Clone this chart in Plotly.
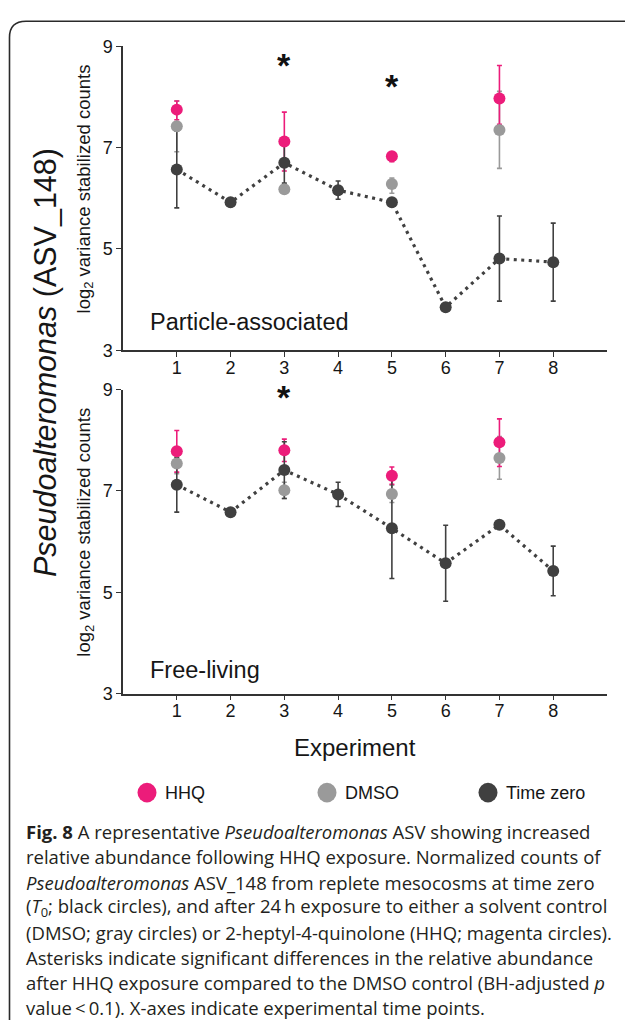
import plotly.graph_objects as go

W, H = 625, 1035

# ---------------- data ----------------
experiments = [1, 2, 3, 4, 5, 6, 7, 8]
treated_experiments = [1, 3, 5, 7]
x_tick_labels = ["1", "2", "3", "4", "5", "6", "7", "8"]
y_tick_values = [3, 5, 7, 9]
series_names = ["HHQ", "DMSO", "Time zero"]
panel_names = ["Particle-associated", "Free-living"]

# Particle-associated
hhq_pa = [7.75, 7.12, 6.83, 7.97]
hhq_pa_plus = [0.17, 0.58, 0.06, 0.65]
hhq_pa_minus = [0.20, 0.58, 0.11, 0.51]
dmso_pa = [7.42, 6.18, 6.28, 7.35]
dmso_pa_plus = [0.50, 0.08, 0.12, 0.76]
dmso_pa_minus = [0.50, 0.08, 0.18, 0.76]
t0_pa = [6.57, 5.92, 6.70, 6.16, 5.92, 3.85, 4.81, 4.74]
t0_pa_plus = [0.76, 0.08, 0.40, 0.18, 0.04, 0.04, 0.84, 0.77]
t0_pa_minus = [0.76, 0.08, 0.40, 0.18, 0.04, 0.04, 0.84, 0.77]
sig_pa_x = [3, 5]
sig_pa_y = [8.55, 8.13]

# Free-living
hhq_fl = [7.78, 7.80, 7.30, 7.96]
hhq_fl_plus = [0.41, 0.22, 0.17, 0.46]
hhq_fl_minus = [0.41, 0.22, 0.17, 0.48]
dmso_fl = [7.54, 7.01, 6.94, 7.65]
dmso_fl_plus = [0.20, 0.16, 0.17, 0.42]
dmso_fl_minus = [0.20, 0.16, 0.17, 0.42]
t0_fl = [7.12, 6.58, 7.41, 6.93, 6.26, 5.57, 6.33, 5.42]
t0_fl_plus = [0.54, 0.05, 0.56, 0.24, 0.99, 0.75, 0.08, 0.49]
t0_fl_minus = [0.54, 0.05, 0.56, 0.24, 0.99, 0.75, 0.08, 0.49]
sig_fl_x = [3]
sig_fl_y = [8.78]

caption_lines = [
    "<b>Fig. 8</b> A representative <i>Pseudoalteromonas</i> ASV showing increased",
    "relative abundance following HHQ exposure. Normalized counts of",
    "<i>Pseudoalteromonas</i> ASV_148 from replete mesocosms at time zero",
    "(<i>T</i><sub>0</sub>; black circles), and after 24\u2009h exposure to either a solvent control",
    "(DMSO; gray circles) or 2-heptyl-4-quinolone (HHQ; magenta circles).",
    "Asterisks indicate significant differences in the relative abundance",
    "after HHQ exposure compared to the DMSO control (BH-adjusted <i>p</i>",
    "value\u2009&lt;\u20090.1). X-axes indicate experimental time points.",
]

# ---------------- style ----------------
C_HHQ = "#EC1C7A"
C_DMSO = "#9A9A9A"
C_T0 = "#404040"
AX = "#333333"
TXT = "#161616"
FONT = "Liberation Sans, Arial, sans-serif"
CAP_FONT = "Open Sans, sans-serif"


def fx(p):
    return p / W


def fy(p):
    return 1 - p / H


fig = go.Figure()

panels = [
    dict(xa="x", ya="y", hhq=(hhq_pa, hhq_pa_plus, hhq_pa_minus),
         dmso=(dmso_pa, dmso_pa_plus, dmso_pa_minus),
         t0=(t0_pa, t0_pa_plus, t0_pa_minus), sig=(sig_pa_x, sig_pa_y)),
    dict(xa="x2", ya="y2", hhq=(hhq_fl, hhq_fl_plus, hhq_fl_minus),
         dmso=(dmso_fl, dmso_fl_plus, dmso_fl_minus),
         t0=(t0_fl, t0_fl_plus, t0_fl_minus), sig=(sig_fl_x, sig_fl_y)),
]

for p in panels:
    # dotted time-zero line
    fig.add_trace(go.Scatter(
        x=experiments, y=p["t0"][0], mode="lines", xaxis=p["xa"], yaxis=p["ya"],
        line=dict(color=C_T0, width=3.2, dash="3px,4.5px"), showlegend=False,
        hoverinfo="skip"))
    # error bars first (under all markers)
    for xs, (vals, plus, minus), col in [
        (treated_experiments, p["dmso"], C_DMSO),
        (treated_experiments, p["hhq"], C_HHQ),
        (experiments, p["t0"], C_T0),
    ]:
        fig.add_trace(go.Scatter(
            x=xs, y=vals, mode="markers", xaxis=p["xa"], yaxis=p["ya"],
            marker=dict(size=1, opacity=0),
            error_y=dict(type="data", symmetric=False, array=plus,
                         arrayminus=minus, color=col, thickness=1.6, width=2.5),
            showlegend=False, hoverinfo="skip"))
    # markers on top
    for xs, (vals, _, _), col, name in [
        (treated_experiments, p["dmso"], C_DMSO, series_names[1]),
        (treated_experiments, p["hhq"], C_HHQ, series_names[0]),
        (experiments, p["t0"], C_T0, series_names[2]),
    ]:
        fig.add_trace(go.Scatter(
            x=xs, y=vals, mode="markers", xaxis=p["xa"], yaxis=p["ya"], name=name,
            marker=dict(size=12, color=col), showlegend=False))

axis_common = dict(
    showline=True, linecolor=AX, linewidth=1.5, ticks="outside", ticklen=5,
    tickwidth=1.2, tickcolor=AX, showgrid=False, zeroline=False,
    tickfont=dict(family=FONT, size=18, color=TXT),
)

x_dom = [fx(123), fx(607)]
fig.update_layout(
    width=W, height=H, margin=dict(l=0, r=0, t=0, b=0),
    paper_bgcolor="white", plot_bgcolor="white", showlegend=False,
    xaxis=dict(domain=x_dom, range=[0, 9], tickvals=experiments,
               ticktext=x_tick_labels, anchor="y", ticklabelstandoff=-5,
               **axis_common),
    yaxis=dict(domain=[fy(347), fy(37)], range=[3, 9], tickvals=y_tick_values,
               anchor="x", **axis_common),
    xaxis2=dict(domain=x_dom, range=[0, 9], tickvals=experiments,
                ticktext=x_tick_labels, anchor="y2", ticklabelstandoff=-5,
                **axis_common),
    yaxis2=dict(domain=[fy(697), fy(387)], range=[3, 9], tickvals=y_tick_values,
                anchor="x2", **axis_common),
)

ann = []
# significance asterisks
for p in panels:
    for sx, sy in zip(*p["sig"]):
        ann.append(dict(x=sx, y=sy, xref=p["xa"], yref=p["ya"], text="<b>*</b>",
                        showarrow=False, yshift=4,
                        font=dict(family=FONT, size=34, color="#111111")))

# panel labels
for name, yc in zip(panel_names, [318, 673]):
    ann.append(dict(x=fx(148), y=fy(yc), xref="paper", yref="paper", text=name,
                    showarrow=False, xanchor="left", yanchor="middle",
                    font=dict(family=FONT, size=23.5, color=TXT)))

# y-axis titles
for yc in [183, 533]:
    ann.append(dict(x=fx(85), y=fy(yc), xref="paper", yref="paper",
                    text="log<sub>2</sub> variance stabilized counts", textangle=-90,
                    showarrow=False, xanchor="center", yanchor="middle",
                    font=dict(family=FONT, size=18.5, color=TXT)))

# big title
ann.append(dict(x=fx(45), y=fy(360), xref="paper", yref="paper",
                text="<i>Pseudoalteromonas</i> (ASV_148)", textangle=-90,
                showarrow=False, xanchor="center", yanchor="middle",
                font=dict(family=FONT, size=30.5, color=TXT)))

# x title
ann.append(dict(x=fx(355), y=fy(752), xref="paper", yref="paper", text="Experiment",
                showarrow=False, xanchor="center", yanchor="middle",
                font=dict(family=FONT, size=24, color=TXT)))

# legend
shapes = []
for name, col, mx, tx in zip(series_names, [C_HHQ, C_DMSO, C_T0],
                             [147, 327, 488], [163, 343, 504]):
    shapes.append(dict(type="circle", xref="paper", yref="paper",
                       x0=fx(mx - 9.5), x1=fx(mx + 9.5), y0=fy(798 + 10), y1=fy(798 - 10),
                       fillcolor=col, line=dict(width=0)))
    ann.append(dict(x=fx(tx), y=fy(798), xref="paper", yref="paper", text=name,
                    showarrow=False, xanchor="left", yanchor="middle",
                    font=dict(family=FONT, size=18, color=TXT)))

# caption
for i, line in enumerate(caption_lines):
    ann.append(dict(x=fx(24), y=fy(838 + i * 25.6), xref="paper", yref="paper",
                    text=line, showarrow=False, xanchor="left", yanchor="middle",
                    font=dict(family=CAP_FONT, size=18.5, color="#231F20")))

# frame
pts = f"M {fx(9.5)},{fy(1030)} L {fx(9.5)},{fy(28)} Q {fx(9.5)},{fy(11.5)} {fx(26)},{fy(11.5)} L {fx(626)},{fy(11.5)}"
shapes.append(dict(type="path", xref="paper", yref="paper", path=pts,
                   line=dict(color="#2a2a2a", width=1.6)))

fig.update_layout(annotations=ann, shapes=shapes)
fig.write_html("out.html")
